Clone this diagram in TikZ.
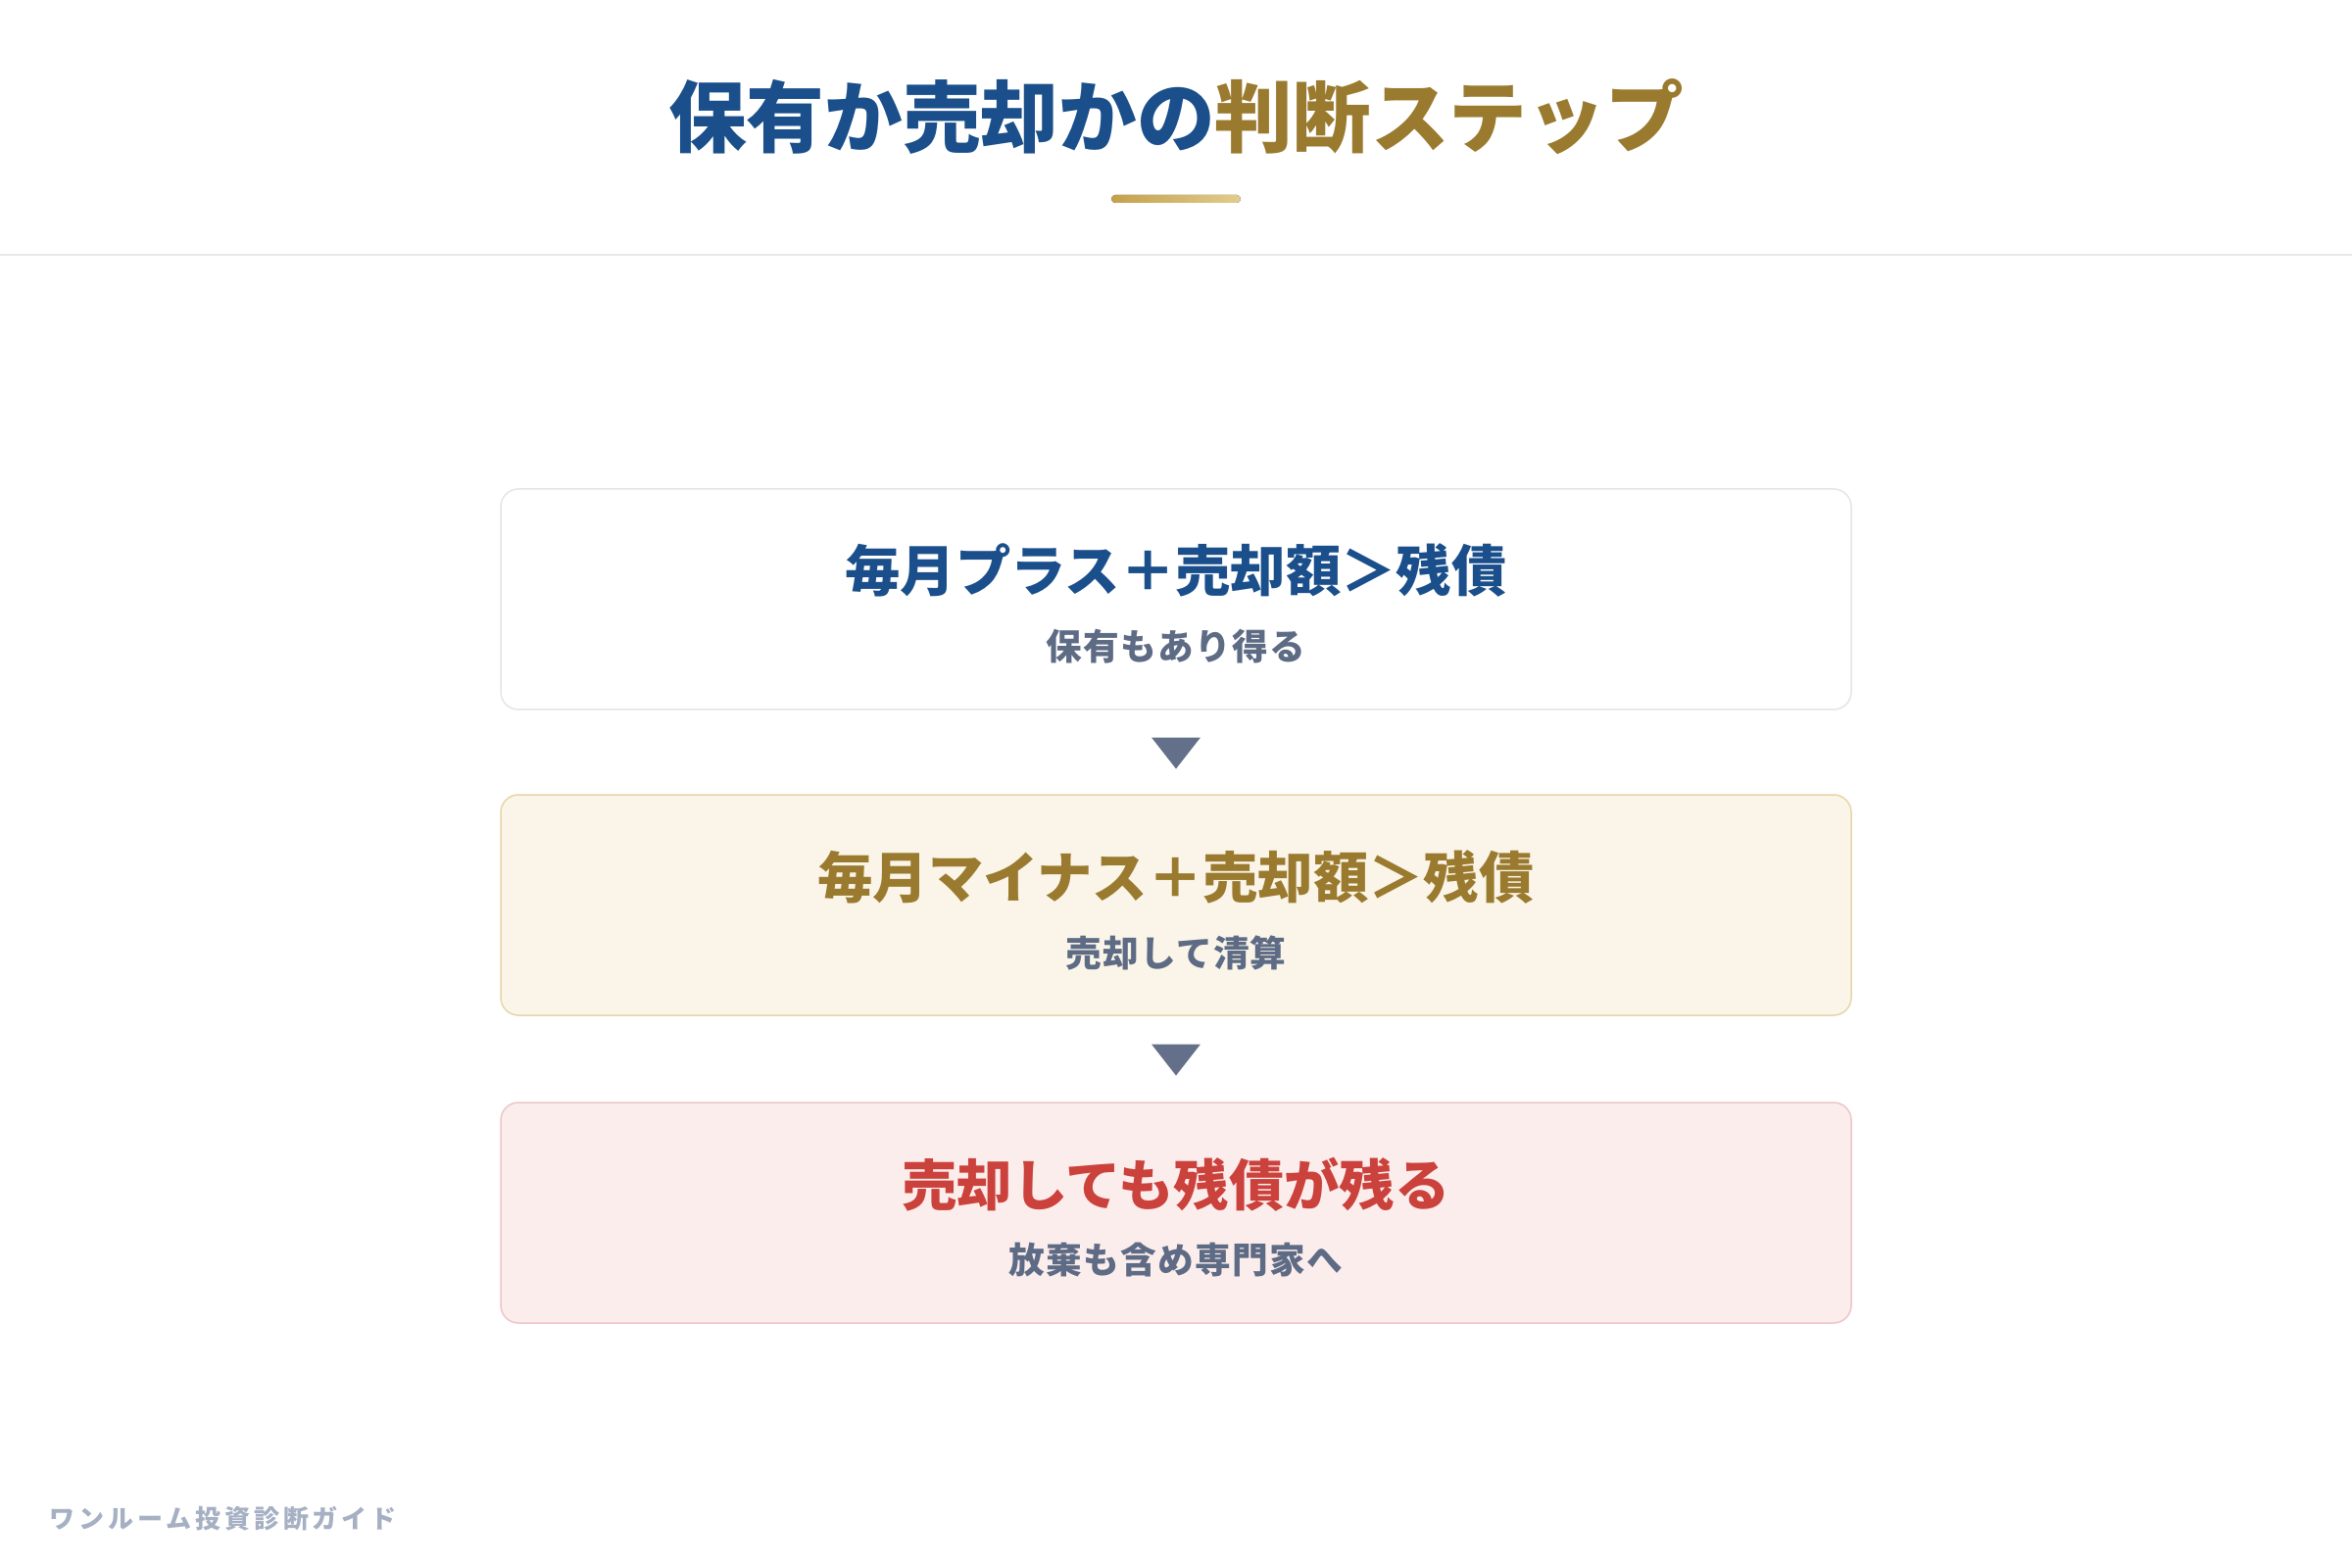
\documentclass[tikz,border=0pt]{standalone}
\usepackage{fontspec}
\usetikzlibrary{calc}
\newfontfamily\jp{Noto Sans CJK JP}
\newfontfamily\jpsub[LetterSpace=3.5]{Noto Sans CJK JP}
\newfontfamily\jpfoot[LetterSpace=15]{Noto Sans CJK JP}
\definecolor{tblue}{HTML}{1A4F8B}
\definecolor{tgold}{HTML}{9A7A2E}
\definecolor{tred}{HTML}{CB413B}
\definecolor{tslate}{HTML}{5E6B84}
\definecolor{tarrow}{HTML}{647089}
\definecolor{sepgray}{HTML}{E6E8EC}
\definecolor{b1line}{HTML}{E3E5EA}
\definecolor{b2fill}{HTML}{FAF5E8}
\definecolor{b2line}{HTML}{E6D6A6}
\definecolor{b3fill}{HTML}{FCEDED}
\definecolor{b3line}{HTML}{EEC5C8}
\definecolor{ugoldA}{HTML}{C4A04A}
\definecolor{ugoldB}{HTML}{E3CC8E}
\definecolor{footgray}{HTML}{A6B0C3}
\begin{document}
\begin{tikzpicture}[x=0.3pt,y=-0.3pt,
  stepbox/.style={draw, line width=0.45pt, rounded corners=5.4pt, minimum width=413.4pt, minimum height=67.5pt, inner sep=0pt},
  maintext/.style={inner sep=0pt, font=\jp\bfseries\fontsize{16.9pt}{20pt}\selectfont},
  subtext/.style={inner sep=0pt, text=tslate, font=\jpsub\bfseries\fontsize{11pt}{13pt}\selectfont},
  tri/.style={fill=tarrow}
]
\useasboundingbox (0,0) rectangle (2400,1600);
\fill[white] (0,0) rectangle (2400,1600);
% title
\node[inner sep=0pt, font=\jp\bfseries\fontsize{23.9pt}{28pt}\selectfont] (title) at (1200,119)
  {{\color{tblue}保有か売却かの}{\color{tgold}判断ステップ}};
\fill[left color=ugoldA, right color=ugoldB, rounded corners=1.2pt] (1134,199) rectangle (1266,207);
\draw[sepgray, line width=0.6pt] (0,260) -- (2400,260);
% boxes
\node[stepbox, draw=b1line, fill=white] (b1) at (1200,611.5) {};
\node[stepbox, draw=b2line, fill=b2fill] (b2) at (1200,923.5) {};
\node[stepbox, draw=b3line, fill=b3fill] (b3) at (1200,1237.5) {};
\node[maintext, text=tblue] (t1) at ($(b1.center)+(0,-29.5)$) {毎月プラス＋売却額＞残債};
\node[subtext] (s1) at ($(b1.center)+(0,48.5)$) {保有もあり得る};
\node[maintext, text=tgold] (t2) at ($(b2.center)+(0,-28.5)$) {毎月マイナス＋売却額＞残債};
\node[subtext] (s2) at ($(b2.center)+(0,48.5)$) {売却して清算};
\node[maintext, text=tred] (t3) at ($(b3.center)+(0,-28.5)$) {売却しても残債が残る};
\node[subtext] (s3) at ($(b3.center)+(0,48.5)$) {放棄も含め専門家へ};
% arrows
\coordinate (m1) at ($(b1.south)!0.5!(b2.north)$);
\coordinate (m2) at ($(b2.south)!0.5!(b3.north)$);
\fill[tri] ($(m1)+(-25,-15)$) -- ($(m1)+(25,-15)$) -- ($(m1)+(0,17)$) -- cycle;
\fill[tri] ($(m2)+(-25,-15)$) -- ($(m2)+(25,-15)$) -- ($(m2)+(0,17)$) -- cycle;
% footer
\node[anchor=west, inner sep=0pt, text=footgray, font=\jpfoot\bfseries\fontsize{7.8pt}{9pt}\selectfont] (foot) at (50,1550) {ワンルーム投資診断ガイド};
\end{tikzpicture}
\end{document}
